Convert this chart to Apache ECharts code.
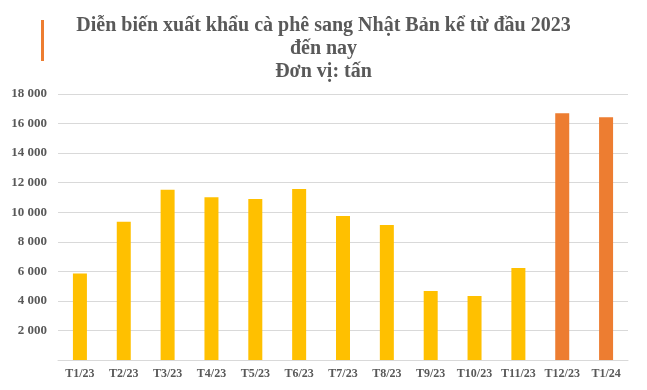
<!DOCTYPE html>
<html><head><meta charset="utf-8">
<script src="https://cdn.jsdelivr.net/npm/echarts@6/dist/echarts.min.js"></script>
<style>html,body{margin:0;padding:0;background:#fff}#c{width:647px;height:390px}</style>
</head><body><div id="c"></div>
<script>
const categories = ['T1/23','T2/23','T3/23','T4/23','T5/23','T6/23','T7/23','T8/23','T9/23','T10/23','T11/23','T12/23','T1/24'];
const values = [5850, 9350, 11520, 11020, 10900, 11570, 9740, 9130, 4670, 4330, 6230, 16700, 16420];
const barColors = ['#FFC000','#FFC000','#FFC000','#FFC000','#FFC000','#FFC000','#FFC000','#FFC000','#FFC000','#FFC000','#FFC000','#ED7D31','#ED7D31'];
const titleLines = ['Diễn biến xuất khẩu cà phê sang Nhật Bản kể từ đầu 2023', 'đến nay', 'Đơn vị: tấn'];

const chart = echarts.init(document.getElementById('c'));
const font = '"Liberation Serif", "Times New Roman", serif';
chart.setOption({
  animation: false,
  title: {
    text: titleLines.join('\n'),
    left: 'center', top: 9,
    textStyle: { fontFamily: font, fontWeight: 'bold', fontSize: 20, color: '#595959', lineHeight: 23 }
  },
  graphic: [{ type: 'rect', shape: { x: 41, y: 20, width: 3, height: 41 }, style: { fill: '#ED7D31' } }],
  grid: { left: 58, right: 19, top: 94, bottom: 30 },
  xAxis: {
    type: 'category', data: categories,
    axisLine: { lineStyle: { color: '#D9D9D9' } },
    axisTick: { show: false },
    axisLabel: { fontFamily: font, fontWeight: 'bold', fontSize: 12, color: '#595959', margin: 8, interval: 0 }
  },
  yAxis: {
    type: 'value', min: 0, max: 18000, interval: 2000,
    splitLine: { lineStyle: { color: '#D9D9D9' } },
    axisLine: { show: false }, axisTick: { show: false },
    axisLabel: {
      fontFamily: font, fontWeight: 'bold', fontSize: 13, color: '#595959', margin: 11,
      formatter: v => v === 0 ? '' : String(v).replace(/\B(?=(\d{3})+(?!\d))/g, ' ')
    }
  },
  series: [{
    type: 'bar', barWidth: 14,
    data: values.map((v, i) => ({ value: v, itemStyle: { color: barColors[i] } }))
  }]
});
</script></body></html>
